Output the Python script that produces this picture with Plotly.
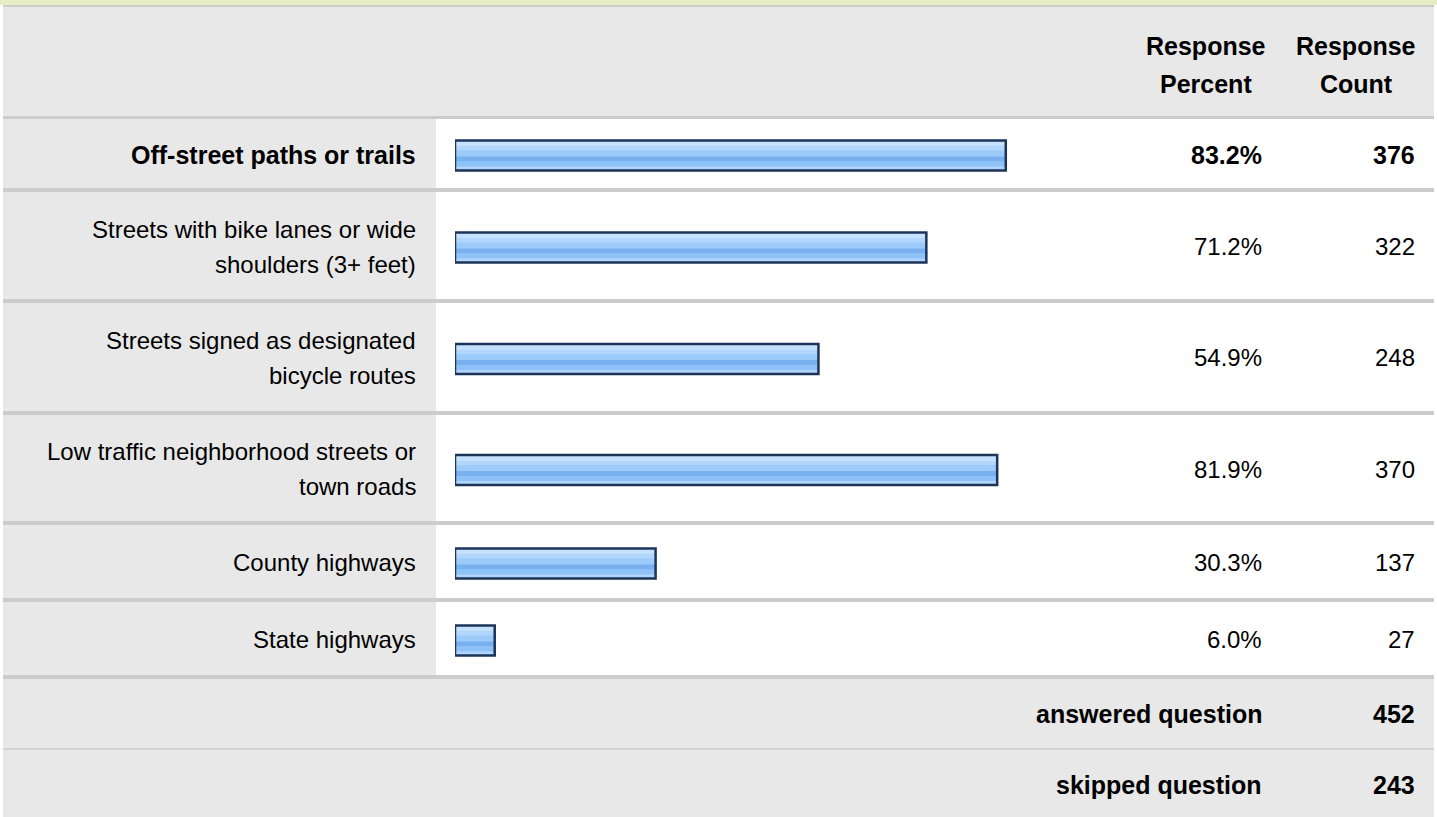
import plotly.graph_objects as go

# ---- data ----
answer_labels = [
    "Off-street paths or trails",
    "Streets with bike lanes or wide\nshoulders (3+ feet)",
    "Streets signed as designated\nbicycle routes",
    "Low traffic neighborhood streets or\ntown roads",
    "County highways",
    "State highways",
]
response_percent = [83.2, 71.2, 54.9, 81.9, 30.3, 6.0]
response_count = [376, 322, 248, 370, 137, 27]
bold_rows = [True, False, False, False, False, False]
header_labels = ["Response\nPercent", "Response\nCount"]
summary_labels = ["answered question", "skipped question"]
summary_counts = [452, 243]

# ---- layout constants (pixels) ----
W, H = 1437, 817
FONT = "Liberation Sans, Arial, Helvetica, sans-serif"
FS = 24
FS_BOLD = 25
GREY = "#e8e8e8"
SEP = "#cccccc"
GREEN = "#e7ecc4"
TABLE_L, TABLE_R = 3, 1434
LABEL_COL_R = 436
LABEL_TEXT_R = 418
PCT_TEXT_R = 1264
CNT_TEXT_R = 1417
PCT_HEAD_C = 1206
CNT_HEAD_C = 1356
BAR_X0, BAR_X100 = 455, 1117
BAR_H = 30
LINE_GAP = 35

# separator bands between rows (top, bottom)
seps = [(116, 119), (188, 192), (299, 303), (411, 415), (521, 525), (598, 602), (675, 679)]
row_tops = [s[1] for s in seps[:-1]]
row_bots = [s[0] for s in seps[1:]]
row_centres = [(t + b) / 2 for t, b in zip(row_tops, row_bots)]
summary_centres = [714, 785]


def px(x):
    return x / W


def py(y):
    return 1 - y / H


shapes = []


def rect(x0, y0, x1, y1, color):
    shapes.append(dict(type="rect", xref="paper", yref="paper",
                       x0=px(x0), x1=px(x1), y0=py(y1), y1=py(y0),
                       fillcolor=color, line=dict(width=0), layer="below"))


# frame: top band, header, separators, label column, summary rows
rect(0, 0, W, 5, GREEN)
rect(TABLE_L, 5, TABLE_R, 7, SEP)
rect(TABLE_L, 7, TABLE_R, 116, GREY)
for t, b in seps:
    rect(TABLE_L, t, TABLE_R, b, SEP)
for t, b in zip(row_tops, row_bots):
    rect(TABLE_L, t, LABEL_COL_R, b, GREY)
rect(TABLE_L, 679, TABLE_R, 748, GREY)
rect(TABLE_L, 748, TABLE_R, 750, "#d2d2d2")
rect(TABLE_L, 750, TABLE_R, H, GREY)

annotations = []


def text(x, y, s, anchor="right", bold=False):
    annotations.append(dict(
        xref="paper", yref="paper", x=px(x), y=py(y),
        text=f"<b>{s}</b>" if bold else s,
        xanchor=anchor, yanchor="middle", showarrow=False,
        font=dict(family=FONT, size=FS_BOLD if bold else FS, color="#000000")))


def multiline(x, yc, s, anchor="right", bold=False, gap=LINE_GAP):
    lines = s.split("\n")
    n = len(lines)
    for i, line in enumerate(lines):
        text(x, yc + (i - (n - 1) / 2) * gap, line, anchor, bold)


# header
multiline(PCT_HEAD_C, 65, header_labels[0], "center", True, 38)
multiline(CNT_HEAD_C, 65, header_labels[1], "center", True, 38)

# answer rows
for lab, pct, cnt, b, yc in zip(answer_labels, response_percent, response_count,
                                bold_rows, row_centres):
    multiline(LABEL_TEXT_R, yc + 1, lab, "right", b)
    text(PCT_TEXT_R, yc + 1, f"{pct:.1f}%", "right", b)
    text(CNT_TEXT_R, yc + 1, f"{cnt}", "right", b)

# summary rows
for lab, cnt, yc in zip(summary_labels, summary_counts, summary_centres):
    text(PCT_TEXT_R, yc, lab, "right", True)
    text(CNT_TEXT_R, yc, f"{cnt}", "right", True)

# ---- bars: base fill, glossy stripes, outline ----
bar_y = [c + 2 for c in row_centres]
fig = go.Figure()


def bar_layer(color, offset, width, line=None):
    fig.add_trace(go.Bar(
        x=response_percent, y=bar_y, orientation="h",
        base=0, offset=offset, width=width,
        marker=dict(color=color, line=line or dict(width=0)),
        hoverinfo="skip", showlegend=False))


bar_layer("#9ccaf9", -BAR_H / 2, BAR_H)
bar_layer("#c6e1fe", -BAR_H / 2, 6)
bar_layer("#b2d6fc", -BAR_H / 2 + 6, 4)
bar_layer("#79b1f0", -BAR_H / 2 + 16, 5)
bar_layer("#8dc1f7", -BAR_H / 2 + 21, 5)
bar_layer("#b0d4fb", -BAR_H / 2 + 26, 3)
bar_layer("rgba(0,0,0,0)", -BAR_H / 2, BAR_H, dict(color="#1d3459", width=2.5))

fig.update_layout(
    width=W, height=H,
    margin=dict(l=0, r=0, t=0, b=0),
    paper_bgcolor="white", plot_bgcolor="rgba(0,0,0,0)",
    barmode="overlay", showlegend=False,
    xaxis=dict(domain=[px(BAR_X0), px(BAR_X100)], range=[0, 100],
               visible=False, fixedrange=True),
    yaxis=dict(domain=[0, 1], range=[H, 0], visible=False, fixedrange=True),
    shapes=shapes, annotations=annotations,
)

fig.write_html("out.html")
